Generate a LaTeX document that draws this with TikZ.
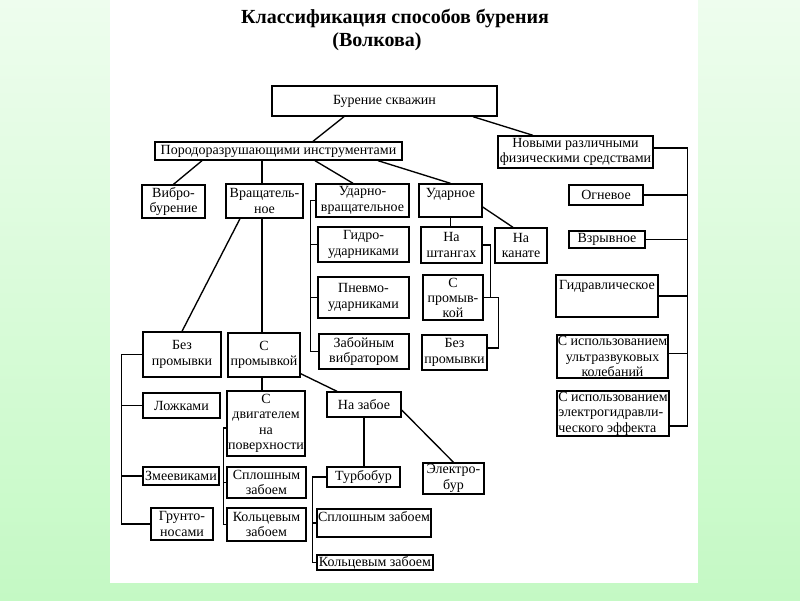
\documentclass[tikz,border=0pt]{standalone}
\usepackage{fontspec}
\setmainfont{Liberation Serif}
\usepackage{tikz}

\newcommand{\boxfont}{\fontsize{14}{15.5}\selectfont}

\begin{document}
\begin{tikzpicture}[x=1pt, y=-1pt,
    blok/.style={draw, line width=1.35pt, inner sep=0pt, align=center, font=\boxfont},
    toptxt/.style={blok, anchor=base},
    every path/.style={line width=1.35pt}]
    \useasboundingbox (0,0) rectangle (800,600);

    % Background and white sheet
    \shade[top color={rgb,255:red,238;green,253;blue,238}, bottom color={rgb,255:red,196;green,249;blue,196}] (0,0) rectangle (800,600);
    \fill[white] (110,0) rectangle (698,583);

    % Title
    \node[anchor=base, font=\fontsize{20}{24}\selectfont\bfseries] (title) at (395,23) {Классификация способов бурения};
    \node[anchor=base, font=\fontsize{20}{24}\selectfont\bfseries] (author) at (377,46) {(Волкова)};

    % Top level
    \node[blok, minimum width=225pt, minimum height=30pt] (burenie) at (384.5,101) {Бурение скважин};
    \node[blok, minimum width=247pt, minimum height=18pt] (porod) at (278.5,151) {Породоразрушающими инструментами};
    \node[blok, minimum width=155pt, minimum height=32pt] (novymi) at (575.5,152) {Новыми различными\\физическими средствами};

    % Second level
    \node[blok, minimum width=63pt, minimum height=33pt] (vibro) at (173.5,201.5) {Вибро-\\бурение};
    \node[blok, minimum width=77pt, minimum height=34pt] (vrasch) at (264.5,201) {Вращатель-\\ное};
    \node[blok, minimum width=93pt, minimum height=33pt] (udvr) at (362.5,200.5) {Ударно-\\вращательное};
    \node[toptxt, minimum width=63pt, text height=13pt, text depth=20pt] (udarn) at (450.5,197) {Ударное};

    % Udarno-vraschatelnoe branch
    \node[blok, minimum width=91pt, minimum height=35pt] (gidroud) at (363.5,244.5) {Гидро-\\ударниками};
    \node[blok, minimum width=91pt, minimum height=41pt] (pnevmo) at (363.5,297.5) {Пневмо-\\ударниками};
    \node[blok, minimum width=90pt, minimum height=35pt] (zabvib) at (364,351.5) {Забойным\\вибратором};

    % Udarnoe branch
    \node[blok, minimum width=61pt, minimum height=36pt] (nashtang) at (451.5,245) {На\\штангах};
    \node[blok, minimum width=52pt, minimum height=35pt] (nakanate) at (521,245.5) {На\\канате};
    \node[blok, minimum width=60pt, minimum height=45pt, font=\fontsize{14}{15}\selectfont] (spromud) at (453,297.5) {С\\промыв-\\кой};
    \node[blok, minimum width=65pt, minimum height=35pt] (bezpromud) at (454.5,352.5) {Без\\промывки};

    % Physical methods
    \node[blok, minimum width=74pt, minimum height=20pt] (ognevoe) at (606,195) {Огневое};
    \node[blok, minimum width=76pt, minimum height=17pt] (vzryv) at (607,239.5) {Взрывное};
    \node[toptxt, minimum width=102pt, text height=14pt, text depth=28pt] (gidravl) at (607,289) {Гидравлическое};
    \node[blok, minimum width=111pt, minimum height=43pt] (ultra) at (612.5,356.5) {С использованием\\ультразвуковых\\колебаний};
    \node[blok, minimum width=112pt, minimum height=45pt, align=left] (elektro) at (613,413.5) {С использованием\\электрогидравли-\\ческого эффекта};

    % Vraschatelnoe branch
    \node[blok, minimum width=78pt, minimum height=45pt] (bezprom) at (182,354.5) {Без\\промывки};
    \node[blok, minimum width=72pt, minimum height=44pt] (sprom) at (264,355) {С\\промывкой};
    \node[blok, minimum width=77pt, minimum height=25pt] (lozhk) at (181.5,405.5) {Ложками};
    \node[blok, minimum width=76pt, minimum height=18pt] (zmeev) at (181,476) {Змеевиками};
    \node[blok, minimum width=62pt, minimum height=32pt] (grunt) at (182,524) {Грунто-\\носами};
    \node[blok, minimum width=78pt, minimum height=65pt] (sdvig) at (266,423.5) {С\\двигателем\\на\\поверхности};
    \node[blok, minimum width=79pt, minimum height=31pt] (splosh1) at (266.5,482.5) {Сплошным\\забоем};
    \node[blok, minimum width=79pt, minimum height=33pt] (kolc1) at (266.5,524.5) {Кольцевым\\забоем};
    \node[blok, minimum width=74pt, minimum height=25pt] (nazaboe) at (364,404.5) {На забое};
    \node[blok, minimum width=73pt, minimum height=20pt] (turbo) at (363.5,477) {Турбобур};
    \node[blok, minimum width=61pt, minimum height=31pt] (elbur) at (453.5,478.5) {Электро-\\бур};
    \node[toptxt, minimum width=114pt, text height=12pt, text depth=16pt] (splosh2) at (374,521) {Сплошным забоем};
    \node[blok, minimum width=116pt, minimum height=15pt] (kolc2) at (375,562.5) {Кольцевым забоем};

    % Connectors from the top
    \draw ([xshift=-40.5pt]burenie.south) -- ([xshift=34.5pt]porod.north);
    \draw ([xshift=88.5pt]burenie.south) -- ([xshift=-42.5pt]novymi.north);
    \draw ([xshift=-76.5pt]porod.south) -- (vibro.north);
    \draw ([xshift=-16.5pt]porod.south) -- ([xshift=-16.5pt]porod.south |- vrasch.north);
    \draw ([xshift=36.5pt]porod.south) -- ([xshift=-9.5pt]udvr.north);
    \draw ([xshift=99.5pt]porod.south) -- (udarn.north);

    % Vraschatelnoe
    \draw ([xshift=-24.5pt]vrasch.south) -- (bezprom.north);
    \draw ([xshift=-2.5pt]vrasch.south) -- ([xshift=-2.5pt]vrasch.south |- sprom.north);
    \draw ([xshift=-2pt]sprom.south) -- ([xshift=-2pt]sprom.south |- sdvig.north);
    \draw ([yshift=4pt]sprom.south east) -- ([xshift=-27pt]nazaboe.north);
    \draw (nazaboe.south) -- (nazaboe.south |- turbo.north);
    \draw ([yshift=-5.5pt]nazaboe.east) -- (elbur.north);

    % Udarnoe
    \draw (udarn.south) -- (udarn.south |- nashtang.north);
    \draw ([yshift=-6.5pt]udarn.east) -- ([xshift=-8pt]nakanate.north);

    % Brackets
    \draw (udvr.west) -- ++(-5,0) |- (zabvib.west);
    \draw (gidroud.west) -- ++(-7,0);
    \draw (pnevmo.west) -- ++(-7,0);
    \draw (nashtang.east) -- ++(8,0) |- (spromud.east);
    \draw (spromud.east) -- ++(15,0) |- ([yshift=4.5pt]bezpromud.east);

    \draw ([yshift=4pt]novymi.east) -- ++(34,0) coordinate (rbus) |- ([yshift=-12.5pt]elektro.east);
    \draw (ognevoe.east) -- (ognevoe.east -| rbus);
    \draw (vzryv.east) -- (vzryv.east -| rbus);
    \draw (gidravl.east) -- (gidravl.east -| rbus);
    \draw ([yshift=3pt]ultra.east) -- ([yshift=3pt]ultra.east -| rbus);

    \draw (bezprom.west) -- ++(-21,0) coordinate (lbus) |- (grunt.west);
    \draw (lozhk.west) -- (lozhk.west -| lbus);
    \draw (zmeev.west) -- (zmeev.west -| lbus);

    \draw ([yshift=-4.5pt]sdvig.west) -- ++(-3,0) |- (kolc1.west);
    \draw (splosh1.west) -- ++(-3,0);

    \draw (turbo.west) -- ++(-14,0) |- (kolc2.west);
    \draw (splosh2.west) -- ++(-4,0);
\end{tikzpicture}
\end{document}
